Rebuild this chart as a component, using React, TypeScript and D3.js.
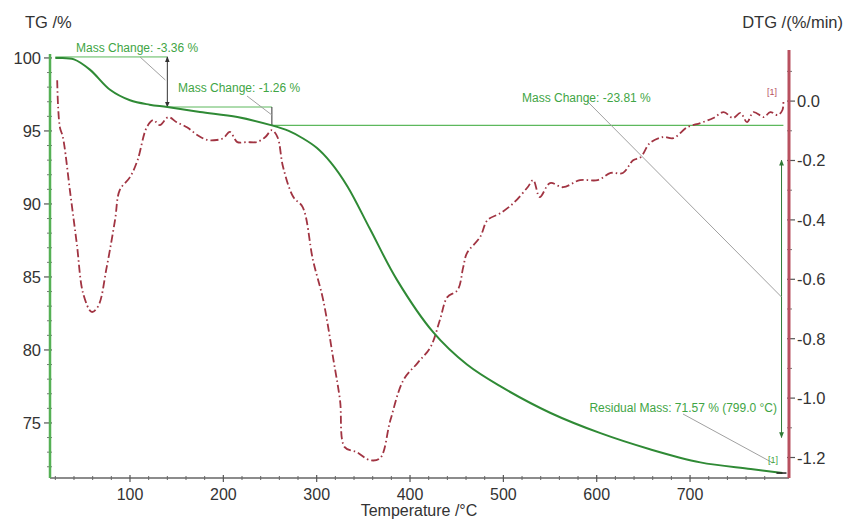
import React from "react";
import * as d3 from "d3";

// TG curve: temperature (°C) vs. mass (%)
const tgTemp = [20, 25, 40, 57, 79, 100, 121, 140, 175, 215, 252, 270, 285, 300, 315, 333, 357, 386, 425, 461, 497, 550, 604, 657, 711, 765, 799];
const tgMass = [100, 100, 99.9, 99.2, 97.8, 97.1, 96.8, 96.64, 96.3, 95.95, 95.38, 95.0, 94.5, 93.85, 92.85, 91.2, 88.3, 84.8, 81.2, 79.0, 77.5, 75.7, 74.3, 73.2, 72.3, 71.85, 71.57];

// DTG curve: temperature (°C) vs. rate (%/min)
const dtgTemp = [22, 23, 25, 28, 36, 43, 50, 59, 66, 75, 84, 89, 100, 108, 118, 125, 132, 141, 150, 161, 172, 183, 193, 200, 207, 215, 225, 236, 245, 252, 258, 264, 275, 285, 296, 307, 318, 325, 330, 343, 357, 368, 379, 393, 408, 422, 432, 440, 451, 457, 461, 475, 483, 497, 511, 526, 532, 539, 550, 564, 582, 601, 615, 628, 639, 647, 657, 671, 682, 697, 711, 725, 736, 746, 754, 761, 768, 779, 786, 794, 799, 800];
const dtgRate = [0.07, -0.02, -0.09, -0.12, -0.31, -0.48, -0.65, -0.71, -0.69, -0.56, -0.4, -0.3, -0.256, -0.2, -0.088, -0.064, -0.081, -0.054, -0.071, -0.088, -0.114, -0.131, -0.131, -0.125, -0.104, -0.138, -0.138, -0.138, -0.121, -0.098, -0.121, -0.222, -0.323, -0.357, -0.535, -0.67, -0.872, -1.007, -1.165, -1.182, -1.209, -1.202, -1.074, -0.939, -0.882, -0.828, -0.737, -0.66, -0.636, -0.559, -0.512, -0.458, -0.401, -0.377, -0.343, -0.29, -0.266, -0.323, -0.276, -0.29, -0.266, -0.266, -0.242, -0.242, -0.199, -0.189, -0.141, -0.121, -0.125, -0.088, -0.074, -0.057, -0.037, -0.057, -0.04, -0.071, -0.037, -0.054, -0.037, -0.047, -0.03, 0.003];

// Axis ticks
const tempTicks = [100, 200, 300, 400, 500, 600, 700];
const massTicks = [75, 80, 85, 90, 95, 100];
const rateTicks = [0.0, -0.2, -0.4, -0.6, -0.8, -1.0, -1.2];

// Evaluation steps (TG %) and labels
const stepTemps = [140, 252];
const stepLabels = ["Mass Change: -3.36 %", "Mass Change: -1.26 %", "Mass Change: -23.81 %"];
const residualLabel = "Residual Mass: 71.57 % (799.0 °C)";

const W = 844;
const H = 519;
const left = 50;
const right = 789;
const bottom = 478;

const GREEN_AXIS = "#55b055";
const TG_COLOR = "#2f8a35";
const DTG_COLOR = "#a13442";
const RED_AXIS = "#b8505f";
const ANN_GREEN = "#3fa545";
const ANN_LINE = "#5cb85c";
const LEADER = "#a0a0a0";
const TXT = "#333";
const FONT = "Liberation Sans, Arial, sans-serif";

export default function App() {
  const x = d3.scaleLinear().domain([14.3, 806]).range([left, right]);
  const yTG = d3.scaleLinear().domain([71.23, 100.27]).range([bottom, 54]);
  const yD = d3.scaleLinear().domain([-1.269, 0.172]).range([bottom, 50]);

  const tgLine = d3
    .line<number>()
    .x((_, i) => x(tgTemp[i]))
    .y((d) => yTG(d))
    .curve(d3.curveCatmullRom.alpha(0.5));
  const dtgLine = d3
    .line<number>()
    .x((_, i) => x(dtgTemp[i]))
    .y((d) => yD(d))
    .curve(d3.curveCatmullRom.alpha(0.5));

  const tempMinor = d3.range(20, 801, 20).filter((t) => t % 100 !== 0);
  const massMinor = d3.range(72, 101, 1).filter((m) => m % 5 !== 0);
  const rateMinor = [0.1, -0.1, -0.3, -0.5, -0.7, -0.9, -1.1];

  const m0 = 100;
  const m1 = 96.64;
  const m2 = 95.38;
  const mEnd = 71.57;
  const x1 = x(stepTemps[0]);
  const x2 = x(stepTemps[1]);
  const xEnd = x(799);
  const xArrow = x(798);

  return (
    <svg
      width={W}
      height={H}
      style={{ position: "absolute", left: 0, top: 0, background: "#fff" }}
      fontFamily={FONT}
    >
      <defs>
        <marker id="ahDark" viewBox="0 0 10 10" refX="9" refY="5" markerWidth="6" markerHeight="6" orient="auto-start-reverse">
          <path d="M0,1 L10,5 L0,9 Z" fill="#333" />
        </marker>
        <marker id="ahGreen" viewBox="0 0 10 10" refX="9" refY="5" markerWidth="6" markerHeight="6" orient="auto-start-reverse">
          <path d="M0,1 L10,5 L0,9 Z" fill="#2f7a35" />
        </marker>
      </defs>

      {/* axis titles */}
      <text x={25} y={28} fontSize={16.5} fill={TXT}>TG /%</text>
      <text x={843} y={28} fontSize={16.5} fill={TXT} textAnchor="end">DTG /(%/min)</text>
      <text x={419} y={516} fontSize={16} fill={TXT} textAnchor="middle">Temperature /°C</text>

      {/* bottom axis */}
      <line x1={left} x2={right} y1={bottom} y2={bottom} stroke="#666" strokeWidth={1.5} />
      {tempMinor.map((t) => (
        <line key={"tm" + t} x1={x(t)} x2={x(t)} y1={bottom - 2} y2={bottom + 2} stroke="#666" />
      ))}
      {tempTicks.map((t) => (
        <g key={"tt" + t}>
          <line x1={x(t)} x2={x(t)} y1={bottom - 3} y2={bottom + 4} stroke="#555" strokeWidth={1.2} />
          <text x={x(t)} y={500} fontSize={16} fill={TXT} textAnchor="middle">{t}</text>
        </g>
      ))}

      {/* left TG axis */}
      {massMinor.map((m) => (
        <line key={"mm" + m} x1={left - 3} x2={left + 2} y1={yTG(m)} y2={yTG(m)} stroke="#777" />
      ))}
      {massTicks.map((m) => (
        <g key={"mt" + m}>
          <line x1={left - 6} x2={left + 2} y1={yTG(m)} y2={yTG(m)} stroke="#555" strokeWidth={1.2} />
          <text x={41} y={yTG(m) + 6} fontSize={16.5} fill={TXT} textAnchor="end">{m}</text>
        </g>
      ))}
      <line x1={left} x2={left} y1={54} y2={bottom} stroke={GREEN_AXIS} strokeWidth={2.5} />

      {/* right DTG axis */}
      {rateMinor.map((r) => (
        <line key={"rm" + r} x1={right - 2} x2={right + 3} y1={yD(r)} y2={yD(r)} stroke="#777" />
      ))}
      {rateTicks.map((r) => (
        <g key={"rt" + r}>
          <line x1={right - 2} x2={right + 6} y1={yD(r)} y2={yD(r)} stroke="#555" strokeWidth={1.2} />
          <text x={797} y={yD(r) + 6} fontSize={16.5} fill={TXT}>{r.toFixed(1)}</text>
        </g>
      ))}
      <line x1={right} x2={right} y1={50} y2={bottom} stroke={RED_AXIS} strokeWidth={3} />

      {/* step evaluation baselines */}
      <line x1={x(20)} x2={x1} y1={yTG(m0) - 1} y2={yTG(m0) - 1} stroke={ANN_LINE} strokeWidth={1} />
      <line x1={x1} x2={x2} y1={yTG(m1)} y2={yTG(m1)} stroke={ANN_LINE} strokeWidth={1} />
      <line x1={x2} x2={x(800)} y1={yTG(m2)} y2={yTG(m2)} stroke={ANN_LINE} strokeWidth={1.2} />

      {/* step arrows */}
      <line x1={x1} x2={x1} y1={yTG(m0) - 1} y2={yTG(m1)} stroke="#333" strokeWidth={1} markerStart="url(#ahDark)" markerEnd="url(#ahDark)" />
      <line x1={x2} x2={x2} y1={yTG(m1)} y2={yTG(m2)} stroke="#333" strokeWidth={1} />
      <line x1={xArrow} x2={xArrow} y1={yTG(93.0)} y2={yTG(74.0)} stroke="#2f7a35" strokeWidth={1} markerStart="url(#ahGreen)" markerEnd="url(#ahGreen)" />

      {/* leader lines */}
      <line x1={140} y1={yTG(m0) - 1} x2={x1 - 2} y2={80} stroke={LEADER} strokeWidth={1} />
      <line x1={247} y1={96} x2={x2} y2={yTG(m1) + 8} stroke={LEADER} strokeWidth={1} />
      <line x1={587} y1={101} x2={xArrow} y2={297} stroke={LEADER} strokeWidth={1} />
      <line x1={683} y1={414} x2={773} y2={463} stroke={LEADER} strokeWidth={1} />

      {/* DTG curve */}
      <path d={dtgLine(dtgRate) || ""} fill="none" stroke={DTG_COLOR} strokeWidth={1.8} strokeDasharray="8,3,1.5,3" />

      {/* TG curve */}
      <path d={tgLine(tgMass) || ""} fill="none" stroke={TG_COLOR} strokeWidth={2} />

      {/* residual marker */}
      <line x1={xEnd - 6} x2={xEnd + 4} y1={yTG(mEnd)} y2={yTG(mEnd)} stroke="#222" strokeWidth={1.5} />

      {/* annotation labels */}
      <text x={76} y={52} fontSize={12} fill={ANN_GREEN}>{stepLabels[0]}</text>
      <text x={178} y={92} fontSize={12} fill={ANN_GREEN}>{stepLabels[1]}</text>
      <text x={522} y={102} fontSize={12} fill={ANN_GREEN}>{stepLabels[2]}</text>
      <text x={777} y={412} fontSize={12} fill={ANN_GREEN} textAnchor="end">{residualLabel}</text>
      <text x={768} y={463} fontSize={9} fill={ANN_GREEN}>[1]</text>
      <text x={767} y={95} fontSize={9} fill={RED_AXIS}>[1]</text>
    </svg>
  );
}
